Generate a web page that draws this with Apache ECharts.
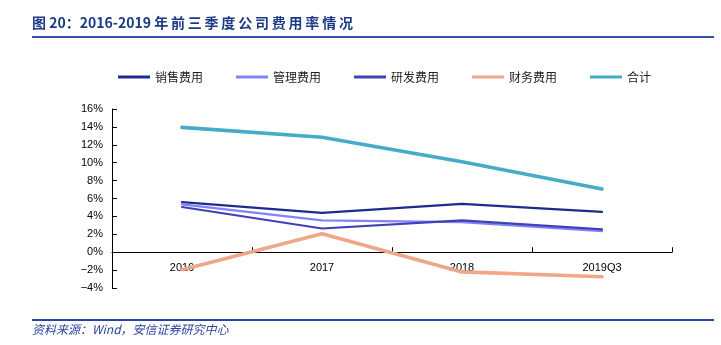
<!DOCTYPE html>
<html>
<head>
<meta charset="utf-8">
<script src="https://cdn.jsdelivr.net/npm/echarts@6/dist/echarts.min.js"></script>
<style>
  html, body { margin: 0; padding: 0; background: #fff; }
  #chart { width: 721px; height: 345px; }
</style>
</head>
<body>
<div id="chart"></div>
<script>
// Expense ratios for the first three quarters, 2016–2019 (%)
const categories = ['2016', '2017', '2018', '2019Q3'];
const salesExpense = [5.6, 4.4, 5.4, 4.5];
const adminExpense = [5.35, 3.55, 3.35, 2.35];
const rdExpense = [5.05, 2.65, 3.55, 2.55];
const financeExpense = [-1.95, 2.05, -2.2, -2.75];
const totalExpense = [13.95, 12.85, 10.1, 7.05];
const yTicks = [-4, -2, 0, 2, 4, 6, 8, 10, 12, 14, 16];

const seriesDefs = [
  { name: '销售费用', data: salesExpense, color: '#1c2b8c', width: 2.2 },
  { name: '管理费用', data: adminExpense, color: '#8282fa', width: 2.2 },
  { name: '研发费用', data: rdExpense, color: '#4141b6', width: 2.2 },
  { name: '财务费用', data: financeExpense, color: '#f0a688', width: 3.6 },
  { name: '合计', data: totalExpense, color: '#46abc8', width: 3.6 }
];

// plot area
const W = 721, H = 345;
const gridLeft = 112, gridRight = 49, gridTop = 109, gridBottom = 57;
const gridHeight = H - gridTop - gridBottom;
const yMin = yTicks[0], yMax = yTicks[yTicks.length - 1];
// lift the category axis so it runs along the 0% line
const zeroOffset = -((0 - yMin) / (yMax - yMin)) * gridHeight;

const chart = echarts.init(document.getElementById('chart'), null, { renderer: 'canvas' });

const fmtPct = v => (v < 0 ? '\u2212' + Math.abs(v) : v) + '%';
const spaced = s => s.split('').join('\u2009');

chart.setOption({
  animation: false,
  backgroundColor: '#fff',
  graphic: [
    {
      type: 'text', left: 32, top: 16,
      style: {
        text: '图 20：2016-2019 ' + spaced('年前三季度公司费用率情况'),
        font: 'bold 14px "Noto Sans CJK SC", "Liberation Sans", sans-serif',
        fill: '#1d3a87'
      }
    },
    {
      type: 'line', shape: { x1: 32, y1: 37, x2: 714, y2: 37 },
      style: { stroke: '#3452a6', lineWidth: 2 }
    },
    {
      type: 'line', shape: { x1: 32, y1: 320, x2: 714, y2: 320 },
      style: { stroke: '#2346a6', lineWidth: 2 }
    },
    {
      type: 'text', left: 32, top: 323,
      style: {
        text: '资料来源：Wind，安信证券研究中心',
        font: 'italic 12px "Noto Sans CJK SC", "Liberation Sans", sans-serif',
        fill: '#2a44a0'
      }
    }
  ],
  legend: {
    left: 113, top: 66,
    icon: 'rect',
    itemWidth: 32, itemHeight: 3,
    itemGap: 33,
    textStyle: {
      fontSize: 12, color: '#222',
      fontFamily: '"Noto Sans CJK SC", sans-serif'
    },
    data: seriesDefs.map(s => s.name)
  },
  grid: { left: gridLeft, right: gridRight, top: gridTop, bottom: gridBottom, containLabel: false },
  xAxis: {
    type: 'category',
    data: categories,
    boundaryGap: true,
    offset: zeroOffset,
    axisLine: { onZero: false, lineStyle: { color: '#000', width: 1 } },
    axisTick: { show: true, inside: true, length: 5, lineStyle: { color: '#000' } },
    axisLabel: {
      color: '#000', fontSize: 11, margin: 10,
      fontFamily: '"Liberation Sans", Arial, sans-serif'
    },
    splitLine: { show: false }
  },
  yAxis: {
    type: 'value',
    min: yMin, max: yMax, interval: 2,
    axisLine: { show: true, lineStyle: { color: '#000', width: 1 } },
    axisTick: { show: true, inside: true, length: 5, lineStyle: { color: '#000' } },
    axisLabel: {
      color: '#000', fontSize: 11, margin: 9,
      fontFamily: '"Liberation Sans", Arial, sans-serif',
      formatter: fmtPct
    },
    splitLine: { show: false }
  },
  series: seriesDefs.map(s => ({
    name: s.name,
    type: 'line',
    data: s.data,
    symbol: 'none',
    color: s.color,
    lineStyle: { color: s.color, width: s.width, cap: 'round' },
    itemStyle: { color: s.color }
  }))
});
</script>
</body>
</html>
